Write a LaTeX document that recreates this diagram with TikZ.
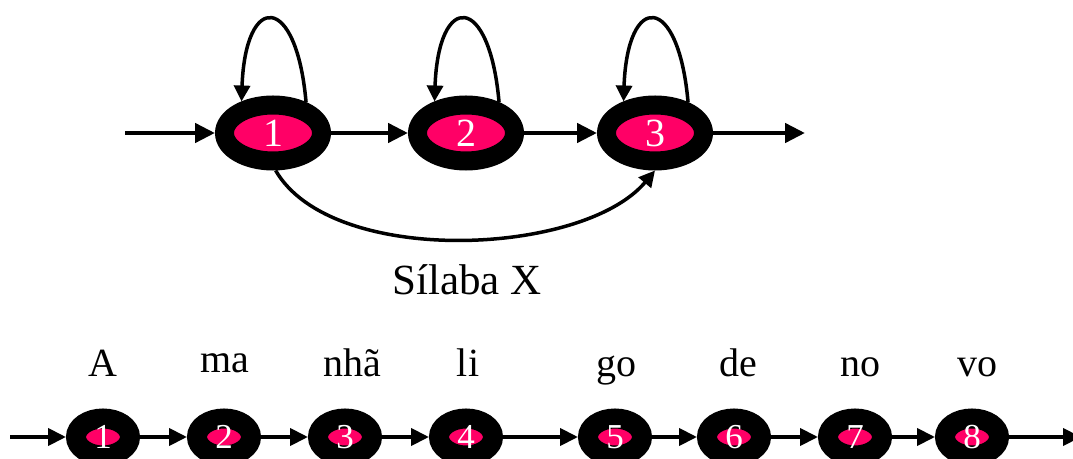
\documentclass[tikz,border=0pt]{standalone}
\usepackage{fontspec}
\setmainfont{Liberation Serif}
\usetikzlibrary{arrows.meta,shapes.geometric}
\definecolor{statepink}{RGB}{255,0,102}
\begin{document}
\begin{tikzpicture}[x=1pt,y=1pt,
  bigstate/.style={ellipse, fill=statepink, draw=black, line width=19pt,
    minimum width=97pt, minimum height=56pt, inner sep=0pt, text=white,
    font=\fontsize{40}{40}\selectfont},
  smallstate/.style={ellipse, fill=statepink, draw=black, line width=20pt,
    minimum width=54pt, minimum height=37pt, inner sep=0pt, text=white,
    font=\fontsize{35}{35}\selectfont},
  flow/.style={line width=4.5pt, -{Triangle[length=20pt,width=19pt]}},
  smallflow/.style={line width=4pt, -{Triangle[length=18pt,width=17pt]}},
  selfloop/.style={line width=3.5pt, -{Triangle[length=16pt,width=16pt]}},
  syl/.style={anchor=base, inner sep=0pt, font=\fontsize{40}{40}\selectfont},
]
\useasboundingbox (0,0) rectangle (1073,458);

% three-state syllable model
\node[bigstate] (s1) at (273,325) {1};
\node[bigstate] (s2) at (466,325) {2};
\node[bigstate] (s3) at (655,325) {3};
\coordinate (topin) at (125,325);
\coordinate (topout) at (805,325);

\draw[flow] (topin) -- (s1);
\draw[flow] (s1) -- (s2);
\draw[flow] (s2) -- (s3);
\draw[flow] (s3) -- (topout);

\draw[selfloop] (s1.43) to[out=95,in=88,distance=110pt] (s1.135);
\draw[selfloop] (s2.43) to[out=95,in=88,distance=110pt] (s2.135);
\draw[selfloop] (s3.43) to[out=95,in=88,distance=110pt] (s3.135);

\draw[selfloop] (s1.-86) to[out=-60,in=-130,distance=112pt] (s3.south);

\node[anchor=base, inner sep=0pt, font=\fontsize{43}{43}\selectfont] (caption) at (467,163) {Sílaba X};

% word as a chain of syllable models
\node[syl] (w1) at (103,82) {A};
\node[syl] (w2) at (225,85) {ma};
\node[syl] (w3) at (352,82) {nhã};
\node[syl] (w4) at (468,82) {li};
\node[syl] (w5) at (616,82) {go};
\node[syl] (w6) at (738,82) {de};
\node[syl] (w7) at (860,82) {no};
\node[syl] (w8) at (977,82) {vo};

\node[smallstate] (b1) at (103,21) {1};
\node[smallstate] (b2) at (224,21) {2};
\node[smallstate] (b3) at (345,21) {3};
\node[smallstate] (b4) at (466,21) {4};
\node[smallstate] (b5) at (615,21) {5};
\node[smallstate] (b6) at (734,21) {6};
\node[smallstate] (b7) at (855,21) {7};
\node[smallstate] (b8) at (972,21) {8};
\coordinate (botin) at (10,21);
\coordinate (botout) at (1081,21);

\draw[smallflow] (botin) -- (b1);
\draw[smallflow] (b1) -- (b2);
\draw[smallflow] (b2) -- (b3);
\draw[smallflow] (b3) -- (b4);
\draw[smallflow] (b4) -- (b5);
\draw[smallflow] (b5) -- (b6);
\draw[smallflow] (b6) -- (b7);
\draw[smallflow] (b7) -- (b8);
\draw[smallflow] (b8) -- (botout);
\end{tikzpicture}
\end{document}
